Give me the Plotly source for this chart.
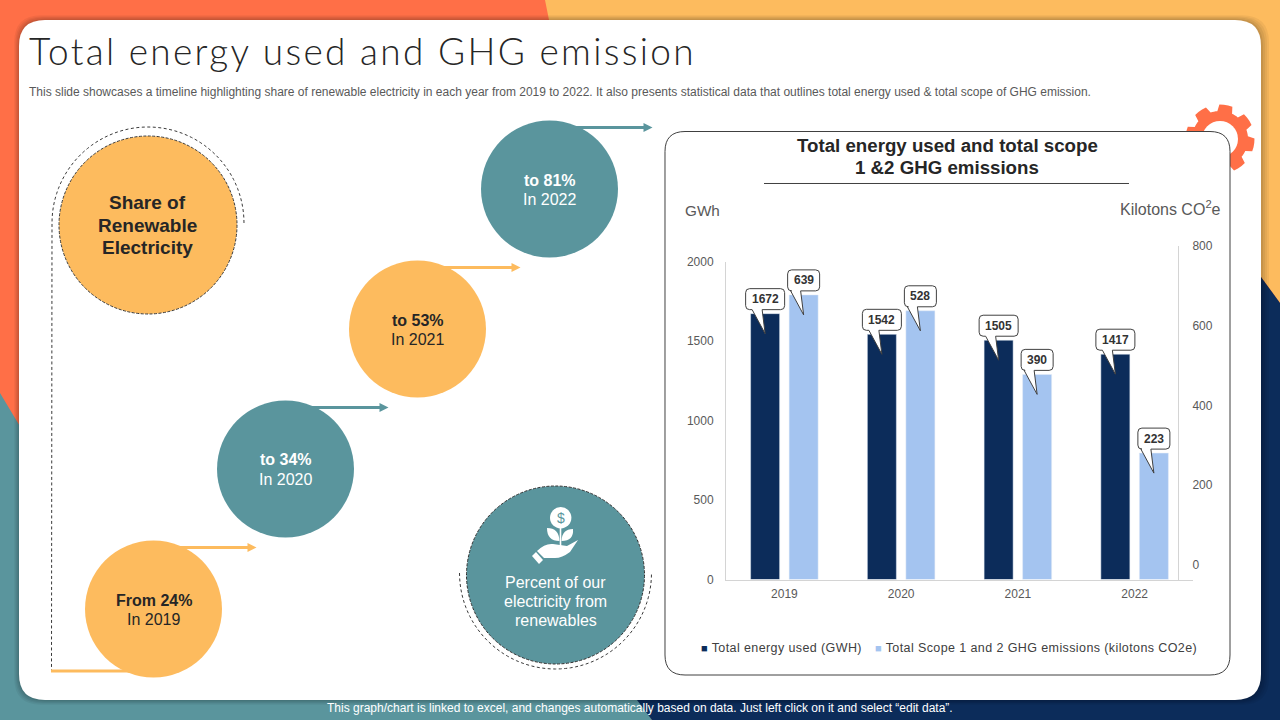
import math
import plotly.graph_objects as go

# ---- chart data ----
years = ["2019", "2020", "2021", "2022"]
energy_gwh = [1672, 1542, 1505, 1417]
emissions_kt = [639, 528, 390, 223]
emission_bar_heights = [1790, 1690, 1290, 795]
left_ticks = [0, 500, 1000, 1500, 2000]
right_ticks = [0, 200, 400, 600, 800]
series_names = ["Total energy used (GWH)", "Total Scope 1 and 2 GHG emissions (kilotons CO2e)"]

# ---- timeline content ----
timeline_head = ["From 24%", "to 34%", "to 53%", "to 81%"]
timeline_year = ["In 2019", "In 2020", "In 2021", "In 2022"]

NAVY, LIGHT, TEAL, AMBER, ORANGE = "#0C2C5A", "#A4C4F0", "#5A959D", "#FDBB5E", "#FF6F47"
SANS = "Liberation Sans"
W, H = 1280, 720


def fx(x):
    return x / W


def fy(y):
    return 1 - y / H


shapes_list = []
notes = []


def path(cmds, fill=None, line=None, width=0, dash=None, layer="below", opacity=1):
    """cmds: list of (letter, x, y, ...) in slide pixels."""
    out = []
    for c in cmds:
        if c[0] == "Z":
            out.append("Z")
            continue
        nums = c[1:]
        pairs = [f"{fx(nums[i]):.5f},{fy(nums[i + 1]):.5f}" for i in range(0, len(nums), 2)]
        out.append(c[0] + " ".join(pairs))
    shapes_list.append(dict(type="path", xref="paper", yref="paper", path=" ".join(out),
                            fillcolor=fill or "rgba(0,0,0,0)", opacity=opacity,
                            line=dict(color=line or "rgba(0,0,0,0)", width=width, dash=dash),
                            layer=layer))


def rrect(x0, y0, x1, y1, r, **kw):
    path([("M", x0 + r, y0), ("L", x1 - r, y0), ("Q", x1, y0, x1, y0 + r), ("L", x1, y1 - r),
          ("Q", x1, y1, x1 - r, y1), ("L", x0 + r, y1), ("Q", x0, y1, x0, y1 - r),
          ("L", x0, y0 + r), ("Q", x0, y0, x0 + r, y0), ("Z",)], **kw)


def circle(cx, cy, r, fill=None, line=None, width=0, dash=None):
    shapes_list.append(dict(type="circle", xref="paper", yref="paper", layer="below",
                            x0=fx(cx - r), x1=fx(cx + r), y0=fy(cy - r), y1=fy(cy + r),
                            fillcolor=fill or "rgba(0,0,0,0)",
                            line=dict(color=line or "rgba(0,0,0,0)", width=width, dash=dash)))


def arc_points(cx, cy, r, a0, a1, n=60):
    return [(cx + r * math.cos(math.radians(a0 + (a1 - a0) * i / n)),
             cy - r * math.sin(math.radians(a0 + (a1 - a0) * i / n))) for i in range(n + 1)]


def polyline(pts, **kw):
    cmds = [("M", *pts[0])] + [("L", *p) for p in pts[1:]]
    path(cmds, **kw)


def txt(x, y, s, size=12, color="#404040", anchor="center", bold=False, family=SANS, weight=None, spacing=None):
    if spacing:
        s = f'<span style="letter-spacing:{spacing}px">{s}</span>'
    notes.append(dict(xref="paper", yref="paper", x=fx(x), y=fy(y), text=s, showarrow=False,
                      xanchor=anchor, yanchor="middle", align=anchor, borderpad=0, borderwidth=0,
                      font=dict(size=size, color=color, family=family,
                                weight=weight if weight else (700 if bold else 400))))


# ---- slide background ----
path([("M", 0, 0), ("L", W, 0), ("L", W, H), ("L", 0, H), ("Z",)], fill=ORANGE)
polyline([(545, 0), (W, 0), (W, 303), (1261, 277), (1100, 200), (560, 60), (549, 20)], fill=AMBER)
polyline([(0, 393), (18, 423), (100, 560), (640, 700), (652, H), (0, H)], fill=TEAL)
polyline([(1261, 277), (W, 303), (W, H), (652, H), (637, 700), (900, 500)], fill=NAVY)
for grow, op in [(8, .05), (6, .05), (4, .06), (2, .07)]:
    rrect(19 - grow * .6, 20 - grow * .6, 1261 + grow, 700 + grow * .6, 27, fill="#000000", opacity=op)
rrect(19, 20, 1261, 700, 26, fill="#FFFFFF")

# ---- gear behind the chart card ----
gx, gy = 1220, 139
gear = []
for k in range(8):
    a = 80 - 45 * k
    gear += arc_points(gx, gy, 28, a + 22.5, a + 12, 3)[:-1]
    gear += arc_points(gx, gy, 34.5, a + 11, a - 11, 3)
    gear += arc_points(gx, gy, 28, a - 12, a - 22.5, 3)[1:]
polyline(gear, fill=ORANGE)
circle(gx, gy, 18, fill="#FFFFFF")

# ---- left circles ----
circle(148, 225, 89, fill=AMBER, line="#3A3A3A", width=1, dash="3px,1.5px")
polyline(arc_points(148, 223, 96, 0, 180) + [(51.5, 671)], line="#3A3A3A", width=1, dash="3px,2.5px")
polyline([(51, 671), (135, 671)], line=AMBER, width=3)
centers = [(153.5, 609), (285.5, 469), (417.5, 329), (549.5, 189)]
for i, (cx, cy) in enumerate(centers):
    col = AMBER if i % 2 == 0 else TEAL
    ink = "#262626" if i % 2 == 0 else "#FFFFFF"
    polyline([(cx + 20, cy - 61.5), (cx + 97, cy - 61.5)], line=col, width=3)
    polyline([(cx + 94, cy - 66), (cx + 103, cy - 61.5), (cx + 94, cy - 57), (cx + 94, cy - 66)], fill=col)
    circle(cx, cy, 68.5, fill=col)
    txt(cx, cy - 9, timeline_head[i], size=16, color=ink, bold=True)
    txt(cx, cy + 10, timeline_year[i], size=16, color=ink)
for line, yy in zip(["Share of", "Renewable", "Electricity"], [202, 225, 247]):
    txt(147.5, yy, line, size=19, color="#262626", bold=True)

# ---- percent circle and icon ----
circle(555.5, 575, 89, fill=TEAL, line="#303030", width=1, dash="3px,1.5px")
polyline(arc_points(555.5, 573, 96, 180, 360), line="#3A3A3A", width=1, dash="3px,2.5px")
circle(560.7, 517.7, 10.7, fill="#FFFFFF")
txt(560.7, 518, "$", size=14, color=TEAL)
polyline([(560.5, 527), (560.5, 546)], line="#FFFFFF", width=1.6)
path([("M", 559.5, 541), ("Q", 547, 541, 547, 528), ("Q", 559, 528, 559.5, 541), ("Z",)], fill="#FFFFFF")
path([("M", 561.5, 541), ("Q", 574, 541, 573, 529), ("Q", 562, 529, 561.5, 541), ("Z",)], fill="#FFFFFF")
path([("M", 537, 551), ("Q", 545, 543, 553, 544), ("L", 567, 546), ("L", 578, 540), ("L", 570, 552),
      ("Q", 562, 558, 555, 558), ("L", 544, 558), ("Z",)], fill="#FFFFFF")
polyline([(532, 556), (536, 552), (543, 560), (539, 564), (532, 556)], fill="#FFFFFF")
for line, yy in zip(["Percent of our", "electricity from", "renewables"], [582, 601, 620]):
    txt(555.5, yy, line, size=16, color="#FFFFFF")

# ---- chart card ----
rrect(665, 131.5, 1230, 675, 20, fill="#FFFFFF", line="#404040", width=1)
polyline([(764, 183.5), (1129, 183.5)], line="#404040", width=1)

# ---- slide text ----
txt(29, 51, "Total energy used and GHG emission", size=37, color="#262626", anchor="left",
    family="Lato", weight=300, spacing=2.3)
txt(29, 92.5, "This slide showcases a timeline highlighting share of renewable electricity in each year "
    "from 2019 to 2022. It also presents statistical data that outlines total energy used &amp; total "
    "scope of GHG emission.", size=12, color="#595959", anchor="left")
txt(640, 708, "This graph/chart is linked to excel, and changes automatically based on data. "
    "Just left click on it and select \u201cedit data\u201d.", size=12, color="#FFFFFF")
txt(947, 146, "Total energy used and total scope", size=18.7, color="#262626", bold=True)
txt(947, 167, "1 &amp;2 GHG emissions", size=18.7, color="#262626", bold=True)
txt(685, 210, "GWh", size=15.3, color="#595959", anchor="left")
txt(1221, 208.5, "Kilotons CO<sup>2</sup>e", size=16, color="#595959", anchor="right")
txt(701, 648, f'<span style="color:{NAVY};font-size:11px">\u25A0</span> {series_names[0]}', size=12.5,
    color="#404040", anchor="left", spacing=.4)
txt(875, 648, f'<span style="color:{LIGHT};font-size:11px">\u25A0</span> {series_names[1]}', size=12.5,
    color="#404040", anchor="left", spacing=.4)

# ---- traces ----
fig = go.Figure()
fig.add_bar(x=years, y=energy_gwh, name=series_names[0], marker_color=NAVY, showlegend=False)
fig.add_bar(x=years, y=emission_bar_heights, name=series_names[1], marker_color=LIGHT, showlegend=False,
            customdata=emissions_kt, hovertemplate="%{x}: %{customdata}<extra></extra>")
fig.add_scatter(x=years, y=emissions_kt, yaxis="y2", mode="markers", marker=dict(opacity=0),
                showlegend=False, hoverinfo="skip")


# ---- data callouts, anchored on the bars ----
def callout(idx, top, label, dx):
    half = 19.5 if len(str(label)) == 4 else 16
    b, t, r = 4, 25, 4
    cx = dx
    p = (f"M{cx - half + r},{b} L{cx - 13},{b} L{cx},{-20} L{cx - 3},{b} L{cx + half - r},{b} "
         f"Q{cx + half},{b} {cx + half},{b + r} L{cx + half},{t - r} Q{cx + half},{t} {cx + half - r},{t} "
         f"L{cx - half + r},{t} Q{cx - half},{t} {cx - half},{t - r} L{cx - half},{b + r} "
         f"Q{cx - half},{b} {cx - half + r},{b} Z")
    shapes_list.append(dict(type="path", xref="x", yref="y", xsizemode="pixel", ysizemode="pixel",
                            xanchor=idx, yanchor=top, path=p, fillcolor="#FFFFFF",
                            line=dict(color="#404040", width=1), layer="above"))
    notes.append(dict(xref="x", yref="y", x=idx, y=top, text=str(label), showarrow=False,
                      xshift=dx, yshift=14.5, xanchor="center", yanchor="middle", borderpad=0,
                      font=dict(size=12, color="#333333", family=SANS, weight=700)))


for i, (e, h, k) in enumerate(zip(energy_gwh, emission_bar_heights, emissions_kt)):
    callout(i, e, e, -19.25)
    callout(i, h, k, 19.25)

fig.update_layout(
    width=W, height=H, margin=dict(l=0, r=0, t=0, b=0, pad=0, autoexpand=False), paper_bgcolor="#FFFFFF",
    plot_bgcolor="rgba(0,0,0,0)", showlegend=False, barmode="group", bargap=0.34, bargroupgap=0.247,
    shapes=shapes_list, annotations=notes, font=dict(family=SANS, color="#595959", size=12),
    xaxis=dict(type="category", categoryorder="array", categoryarray=years, range=[-0.5, 3.5],
               domain=[fx(726), fx(1193)], anchor="y", showgrid=False, showline=True,
               linecolor="#D4D4D4", linewidth=1, ticks="", tickfont=dict(size=12, color="#595959"),
               ticklabelstandoff=3, fixedrange=True, zeroline=False),
    yaxis=dict(domain=[fy(579.5), fy(261.5)], range=[0, 2000], tickvals=left_ticks, showgrid=False,
               showline=True, linecolor="#D4D4D4", linewidth=1, zeroline=False, ticks="",
               ticklabelstandoff=9, tickfont=dict(size=12, color="#595959"), fixedrange=True),
    yaxis2=dict(domain=[fy(579.5), fy(246)], range=[-36.4, 800], tickvals=right_ticks, showgrid=False,
                anchor="free", position=fx(1178), side="right", showline=True, linecolor="#D4D4D4",
                linewidth=1, zeroline=False, ticks="", ticklabelstandoff=11,
                tickfont=dict(size=12, color="#595959"), fixedrange=True),
)

fig.write_html("out.html", config=dict(displayModeBar=False),
               post_script="document.body.style.margin='0';document.body.style.overflow='hidden';")
